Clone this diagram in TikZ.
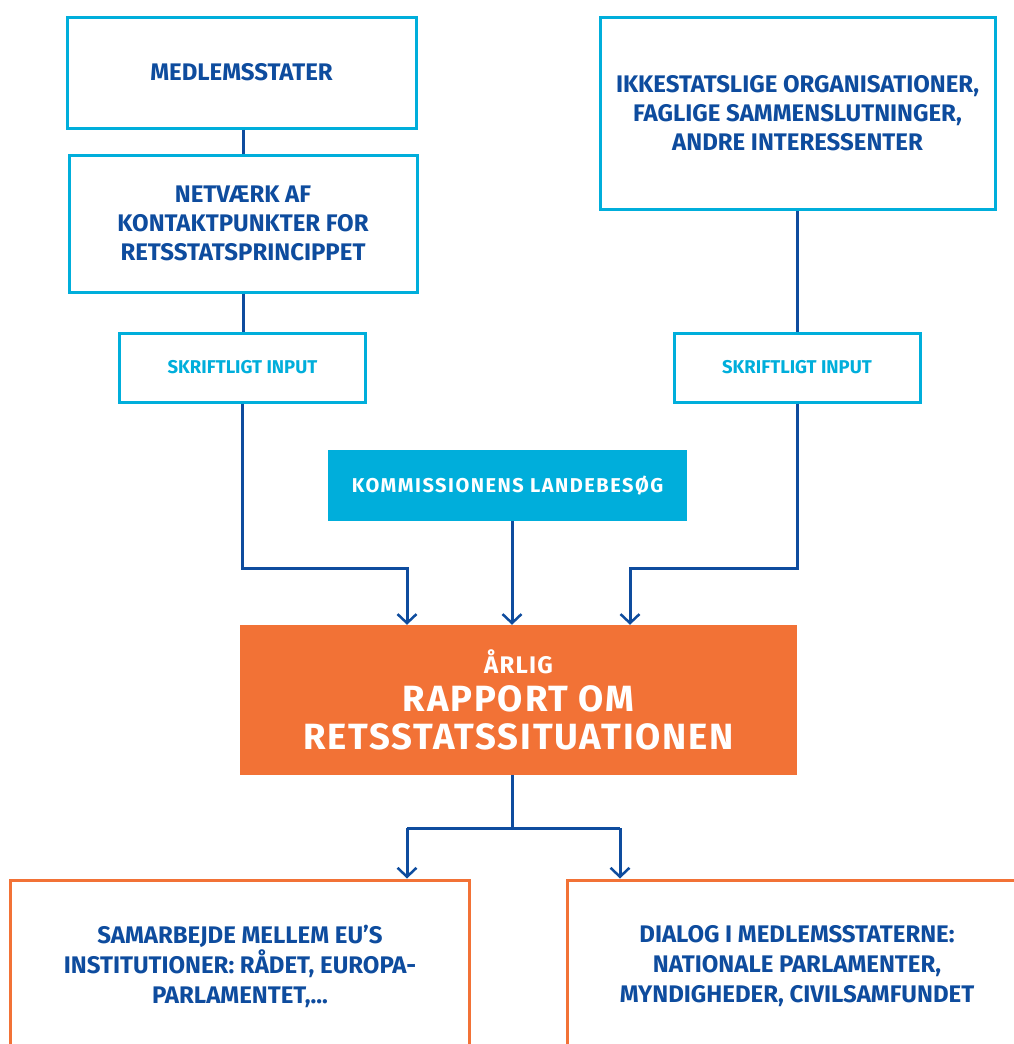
\documentclass[tikz,border=0pt]{standalone}
\usepackage{fontspec}
\setmainfont{Fira Sans}
\usetikzlibrary{arrows.meta}
\definecolor{eublue}{HTML}{0E4C9E}
\definecolor{eucyan}{HTML}{00AEDB}
\definecolor{euorange}{HTML}{F27236}

\begin{document}
\begin{tikzpicture}[x=1pt, y=-1pt,
    cyanbox/.style={draw=eucyan, line width=3pt, text=eublue, align=center,
      font=\fontsize{24}{29}\selectfont\bfseries},
    inputbox/.style={draw=eucyan, line width=3pt, text=eucyan,
      font=\fontsize{18.5}{20}\selectfont\bfseries,
      minimum width=246pt, minimum height=69pt},
    orangebox/.style={draw=euorange, line width=3pt, text=eublue, align=center,
      font=\fontsize{24}{30}\selectfont\bfseries,
      minimum width=459pt, minimum height=172pt},
    link/.style={draw=eublue, line width=3pt},
    arrow/.style={link, -{Straight Barb[length=9pt, width=19pt, line width=2.5pt]}}]
      \useasboundingbox (0,0) rectangle (1014,1044);

      % sources
      \node[cyanbox, minimum width=349pt, minimum height=111pt] (ms) at (241.5, 72.5) {MEDLEMSSTATER};
      \node[cyanbox, minimum width=348pt, minimum height=137pt] (net) at (243, 223.5)
        {NETVÆRK AF\\KONTAKTPUNKTER FOR\\RETSSTATSPRINCIPPET};
      \node[cyanbox, minimum width=395pt, minimum height=192pt] (ngo) at (797.5, 113)
        {IKKESTATSLIGE ORGANISATIONER,\\FAGLIGE SAMMENSLUTNINGER,\\ANDRE INTERESSENTER};
      \node[inputbox] (inL) at (242.5, 367.5) {SKRIFTLIGT INPUT};
      \node[inputbox] (inR) at (797, 367.5) {SKRIFTLIGT INPUT};
      \node[fill=eucyan, text=white, minimum width=359pt, minimum height=71pt,
        font=\fontsize{20}{22}\selectfont\bfseries\addfontfeature{LetterSpace=7.5}] (kom) at (507.5, 485.5)
        {KOMMISSIONENS LANDEBESØG};

      % report
      \node[fill=euorange, text=white, align=center, minimum width=557pt, minimum height=150pt,
        font=\fontsize{36.5}{38}\selectfont\bfseries\addfontfeature{LetterSpace=5}] (rep) at (518.5, 700)
        {{\fontsize{24}{26}\selectfont ÅRLIG}\\RAPPORT OM\\RETSSTATSSITUATIONEN};

      % follow-up
      \node[orangebox] (coop) at (240, 966)
        {SAMARBEJDE MELLEM EU’S\\INSTITUTIONER: RÅDET, EUROPA-\\PARLAMENTET,...};
      \node[orangebox] (dialog) at (797, 966)
        {DIALOG I MEDLEMSSTATERNE:\\NATIONALE PARLAMENTER,\\MYNDIGHEDER, CIVILSAMFUNDET};

      \coordinate (joinL) at (407, 568);
      \coordinate (joinR) at (630, 568);
      \coordinate (mid) at (512, 0);
      \coordinate (split) at (512, 828);
      \coordinate (forkL) at (407, 828);
      \coordinate (forkR) at (620, 828);

      \draw[link] (ms.south -| net.north) -- (net.north);
      \draw[link] (net.south) -- (net.south |- inL.north);
      \draw[link] (ngo.south) -- (ngo.south |- inR.north);

      \draw[arrow] (inL.south) |- (joinL) -- (rep.north -| joinL);
      \draw[arrow] (inR.south) |- (joinR) -- (rep.north -| joinR);
      \draw[arrow] (kom.south -| mid) -- (rep.north -| mid);

      \draw[link] (rep.south -| split) -- (split);
      \draw[link] (forkL) -- (forkR);
      \draw[arrow] (forkL) -- (coop.north -| forkL);
      \draw[arrow] (forkR) -- (dialog.north -| forkR);
\end{tikzpicture}
\end{document}
